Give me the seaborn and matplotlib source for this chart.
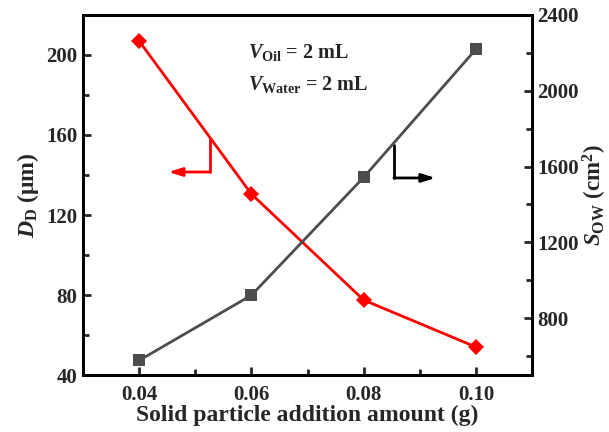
import matplotlib
matplotlib.use("Agg")
import matplotlib.pyplot as plt
import seaborn as sns
import pandas as pd

# data
amount_g = [0.04, 0.06, 0.08, 0.10]
droplet_size_um = [207, 130.5, 77.5, 54]
interface_area_cm2 = [577, 921, 1543, 2219]

df = pd.DataFrame({"amount": amount_g, "D": droplet_size_um, "S": interface_area_cm2})

sns.set_style("ticks")
plt.rcParams["font.family"] = ["Liberation Serif", "DejaVu Serif"]
plt.rcParams["font.weight"] = "bold"
plt.rcParams["mathtext.fontset"] = "custom"
plt.rcParams["mathtext.rm"] = "Liberation Serif:bold"
plt.rcParams["mathtext.bf"] = "Liberation Serif:bold"
plt.rcParams["mathtext.it"] = "Liberation Serif:italic:bold"

fig = plt.figure(figsize=(6.09, 4.32), dpi=100)
ax = fig.add_axes([0.1363, 0.1319, 0.7373, 0.8334])
ax2 = ax.twinx()

sns.lineplot(data=df, x="amount", y="D", ax=ax, color="#ff0000", lw=2,
             marker="D", markersize=8.5, markeredgewidth=0, zorder=3)
sns.lineplot(data=df, x="amount", y="S", ax=ax2, color="#4d4d4d", lw=2,
             marker="s", markersize=8, markeredgewidth=0, zorder=3)

ax.set_xlim(0.03, 0.11)
ax.set_ylim(40, 220)
ax2.set_ylim(500, 2400)
ax.set_xticks([0.04, 0.06, 0.08, 0.10])
ax.set_xticks([0.05, 0.07, 0.09], minor=True)
ax.set_xticklabels(["0.04", "0.06", "0.08", "0.10"])
ax.set_yticks([40, 80, 120, 160, 200])
ax.set_yticks([60, 100, 140, 180], minor=True)
ax2.set_yticks([800, 1200, 1600, 2000, 2400])
ax2.set_yticks([600, 1000, 1400, 1800, 2200], minor=True)

for a in (ax, ax2):
    for s in a.spines.values():
        s.set_linewidth(2)
        s.set_color("black")
    a.tick_params(which="major", direction="in", length=6, width=2, labelsize=15)
    a.tick_params(which="minor", direction="in", length=4, width=2)
ax.tick_params(axis="x", pad=7)
ax.tick_params(axis="y", pad=4)
ax2.tick_params(axis="y", pad=4)

ax.set_xlabel("Solid particle addition amount (g)", fontsize=17, fontweight="bold", labelpad=0)
ax.set_ylabel(r"$D_{\mathrm{D}}$ (μm)", fontsize=17, fontweight="bold", labelpad=4)
ax2.set_ylabel(r"$S_{\mathrm{OW}}$ (cm$^{2}$)", fontsize=16.5, fontweight="bold",
               rotation=90, labelpad=1)

ax.text(0.367, 0.897, r"$V_{\mathrm{Oil}}$ = 2 mL", transform=ax.transAxes,
        fontsize=14.5, fontweight="bold", va="center", ha="left")
ax.text(0.367, 0.806, r"$V_{\mathrm{Water}}$ = 2 mL", transform=ax.transAxes,
        fontsize=14.5, fontweight="bold", va="center", ha="left")

# series indicator arrows
ax.plot([0.0526, 0.0526], [158, 141.5], color="#ff0000", lw=2)
ax.annotate("", xy=(0.0452, 141.5), xytext=(0.0526, 141.5),
            arrowprops=dict(arrowstyle="-|>,head_length=0.8,head_width=0.25",
                            color="#ff0000", lw=2, shrinkA=0, shrinkB=0))
ax2.plot([0.0854, 0.0854], [1712, 1540], color="black", lw=2)
ax2.annotate("", xy=(0.0928, 1540), xytext=(0.0854, 1540),
             arrowprops=dict(arrowstyle="-|>,head_length=0.8,head_width=0.25",
                             color="black", lw=2, shrinkA=0, shrinkB=0))

fig.savefig("out.png", dpi=100)
